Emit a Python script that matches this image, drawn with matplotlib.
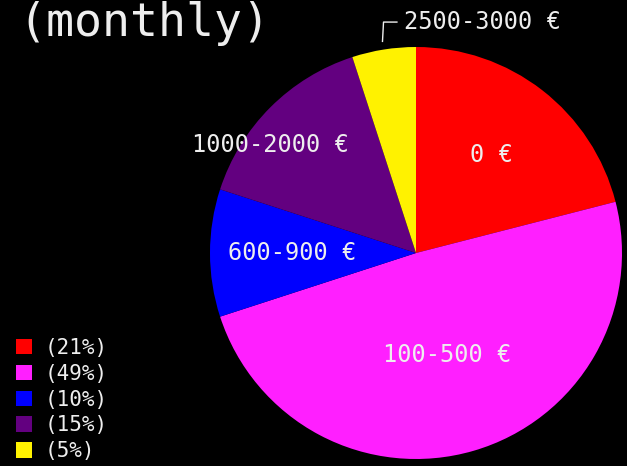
import matplotlib.pyplot as plt
import numpy as np

categories = ["0 €", "100-500 €", "600-900 €", "1000-2000 €", "2500-3000 €"]
shares = [21, 49, 10, 15, 5]
colors = ["#ff0000", "#ff1fff", "#0000ff", "#630080", "#fff200"]
legend_labels = [f"({s}%)" for s in shares]

TEXT = "#eeeeee"
MONO = "DejaVu Sans Mono"

fig = plt.figure(figsize=(6.27, 4.66), dpi=100, facecolor="black")
ax = fig.add_axes([210 / 627, 7 / 466, 412 / 627, 412 / 466])
ax.set_facecolor("black")

wedges, _ = ax.pie(shares, colors=colors, startangle=90, counterclock=False,
                   radius=1.0, wedgeprops={"linewidth": 0})
ax.set_xlim(-1, 1)
ax.set_ylim(-1, 1)
ax.set_aspect("equal")
ax.axis("off")

# label placement: radius fraction and angle offset per slice
label_r = [0.6, 0.52, 0.6, 0.88, None]
label_off = [0, 0.7, 0, 8.5, 0]
for w, cat, r, off in zip(wedges, categories, label_r, label_off):
    mid = np.deg2rad((w.theta1 + w.theta2) / 2 + off)
    if r is None:
        x0, y0 = 1.04 * np.cos(mid), 1.04 * np.sin(mid)
        ax.plot([x0, x0 + 0.005, x0 + 0.07], [y0, 1.121, 1.121], color=TEXT,
                lw=1, clip_on=False)
        ax.text(x0 + 0.105, 1.121, cat, color=TEXT, fontsize=17, family=MONO,
                ha="left", va="center", clip_on=False)
    else:
        ax.text(r * np.cos(mid), r * np.sin(mid), cat, color=TEXT, fontsize=17,
                family=MONO, ha="center", va="center", clip_on=False)

fig.text(18 / 627, 1 - 23 / 466, "(monthly)", color=TEXT, fontsize=33.5,
         family=MONO, ha="left", va="center")

leg = fig.legend(wedges, legend_labels, loc="lower left",
                 bbox_to_anchor=(6 / 627, -0.012), frameon=False,
                 handlelength=0.75, handleheight=0.75, handletextpad=0.6,
                 labelspacing=0.28, borderaxespad=0.1,
                 prop={"family": MONO, "size": 15})
for t in leg.get_texts():
    t.set_color(TEXT)

fig.savefig("out.png", dpi=100, facecolor="black")
